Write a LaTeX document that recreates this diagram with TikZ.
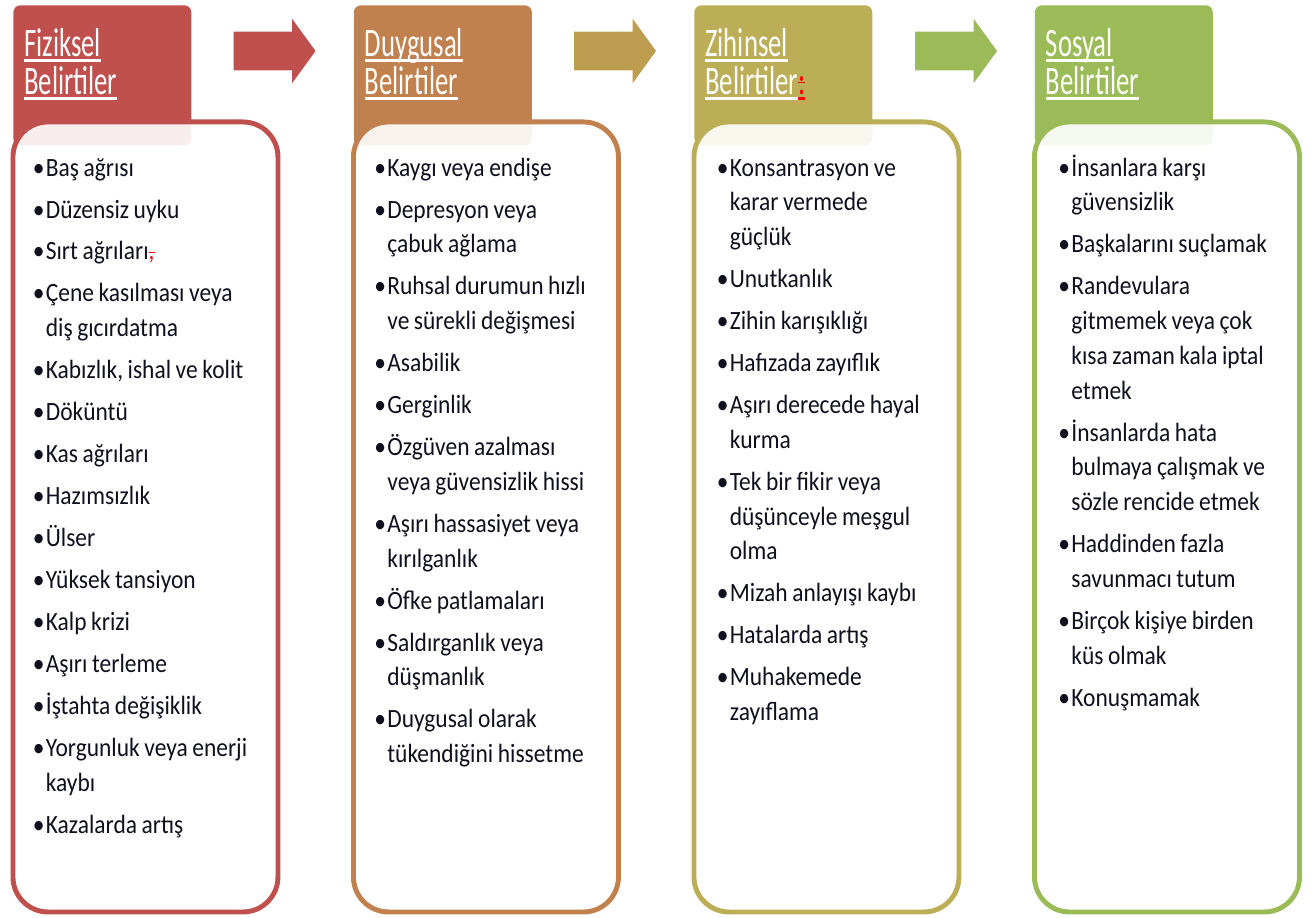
\documentclass[tikz,border=0pt]{standalone}
\usepackage{fontspec}
\setmainfont{Carlito}[FakeStretch=0.89]
\newfontfamily\hdfont{Carlito}[FakeStretch=0.66,WordSpace=0.7]
\usetikzlibrary{positioning,calc,shapes.arrows}
\definecolor{fizred}{RGB}{192,80,77}
\definecolor{duybrown}{RGB}{193,129,78}
\definecolor{zihgold}{RGB}{188,174,86}
\definecolor{sosgreen}{RGB}{155,187,89}
\definecolor{arrgold}{RGB}{189,158,81}
\definecolor{txtdark}{RGB}{15,15,30}
\newlength{\bulind}
\setlength{\bulind}{7.4pt}
\newcommand{\hdul}[2][white]{\leavevmode\setbox0=\hbox{#2}\rlap{\smash{\color{#1}\rule[-2.8pt]{\wd0}{1.4pt}}}\box0}
\newcommand{\delmk}[1]{\textcolor{red}{\setbox2=\hbox{#1}\rlap{\rule[0.28em]{\wd2}{0.6pt}}\box2}}
\newcommand{\li}[1]{\hangindent=\bulind\hangafter=1\noindent\hbox to\bulind{•\hfil}#1\par}

\begin{document}
\begin{tikzpicture}[
  hdr/.style={fill=#1,rounded corners=4pt,minimum width=3.56cm,minimum height=2.8cm,
    anchor=north west,inner sep=0},
  lst/.style={draw=#1,line width=2.8pt,rounded corners=0.7cm,fill=white,fill opacity=0.9,
    minimum width=5.3cm,minimum height=15.8cm,anchor=north west,inner sep=0},
  hdtxt/.style={font=\hdfont\fontsize{23}{21.5}\selectfont,text=white,text width=3.3cm,
    align=left,inner sep=0,anchor=base west},
  items/.style={font=\fontsize{15}{19.8}\selectfont,text=txtdark,text width=5cm,align=left,
    inner sep=0,anchor=base west,
    execute at begin node={\setlength{\parskip}{4.1pt}\spaceskip=2.6pt plus 1pt minus 0.5pt}},
  blk/.style={single arrow,fill=#1,draw=none,inner sep=0,text height=0.76cm,text depth=0pt,
    minimum height=1.64cm,single arrow head extend=0.26cm,single arrow tip angle=108}]
\useasboundingbox (0,0) rectangle (26.24,-18.36);

% header tabs
\node[hdr=fizred] (h1) at (0.26,-0.1) {};
\node[hdr=duybrown] (h2) at (7.07,-0.1) {};
\node[hdr=zihgold] (h3) at (13.88,-0.1) {};
\node[hdr=sosgreen] (h4) at (20.69,-0.1) {};

% block arrows
\node[blk=fizred] (a12) at (5.35,-1.02) {};
\node[blk=arrgold] (a23) at (12.16,-1.02) {};
\node[blk=sosgreen] (a34) at (18.98,-1.02) {};

% list boxes
\node[lst=fizred] (b1) at (0.21,-2.39) {};
\node[lst=duybrown] (b2) at (7.02,-2.39) {};
\node[lst=zihgold] (b3) at (13.83,-2.39) {};
\node[lst=sosgreen] (b4) at (20.64,-2.39) {};

% header texts
\node[hdtxt] (t1) at ($(h1.north west)+(0.22,-1.04)$) {\hdul{Fiziksel}\\\hdul{Belirtiler}};
\node[hdtxt] (t2) at ($(h2.north west)+(0.22,-1.04)$) {\hdul{Duygusal}\\\hdul{Belirtiler}};
\node[hdtxt] (t3) at ($(h3.north west)+(0.22,-1.04)$) {\hdul{Zihinsel}\\\hdul{Belirtiler}\hdul[red]{\delmk{:}}};
\node[hdtxt] (t4) at ($(h4.north west)+(0.22,-1.04)$) {\hdul{Sosyal}\\\hdul{Belirtiler}};

% lists
\node[items] (l1) at ($(b1.north west)+(0.44,-1.13)$) {%
  \li{Baş ağrısı}\li{Düzensiz uyku}\li{Sırt ağrıları\delmk{,}}%
  \li{Çene kasılması veya\newline diş gıcırdatma}\li{Kabızlık, ishal ve kolit}%
  \li{Döküntü}\li{Kas ağrıları}\li{Hazımsızlık}\li{Ülser}\li{Yüksek tansiyon}%
  \li{Kalp krizi}\li{Aşırı terleme}\li{İştahta değişiklik}%
  \li{Yorgunluk veya enerji\newline kaybı}\li{Kazalarda artış}};
\node[items] (l2) at ($(b2.north west)+(0.46,-1.13)$) {%
  \li{Kaygı veya endişe}\li{Depresyon veya\newline çabuk ağlama}%
  \li{Ruhsal durumun hızlı\newline ve sürekli değişmesi}\li{Asabilik}\li{Gerginlik}%
  \li{Özgüven azalması\newline veya güvensizlik hissi}%
  \li{Aşırı hassasiyet veya\newline kırılganlık}\li{Öfke patlamaları}%
  \li{Saldırganlık veya\newline düşmanlık}\li{Duygusal olarak\newline tükendiğini hissetme}};
\node[items] (l3) at ($(b3.north west)+(0.5,-1.13)$) {%
  \li{Konsantrasyon ve\newline karar vermede\newline güçlük}\li{Unutkanlık}%
  \li{Zihin karışıklığı}\li{Hafızada zayıflık}\li{Aşırı derecede hayal\newline kurma}%
  \li{Tek bir fikir veya\newline düşünceyle meşgul\newline olma}\li{Mizah anlayışı kaybı}%
  \li{Hatalarda artış}\li{Muhakemede\newline zayıflama}};
\node[items] (l4) at ($(b4.north west)+(0.52,-1.13)$) {%
  \li{İnsanlara karşı\newline güvensizlik}\li{Başkalarını suçlamak}%
  \li{Randevulara\newline gitmemek veya çok\newline kısa zaman kala iptal\newline etmek}%
  \li{İnsanlarda hata\newline bulmaya çalışmak ve\newline sözle rencide etmek}%
  \li{Haddinden fazla\newline savunmacı tutum}\li{Birçok kişiye birden\newline küs olmak}%
  \li{Konuşmamak}};
\end{tikzpicture}
\end{document}
